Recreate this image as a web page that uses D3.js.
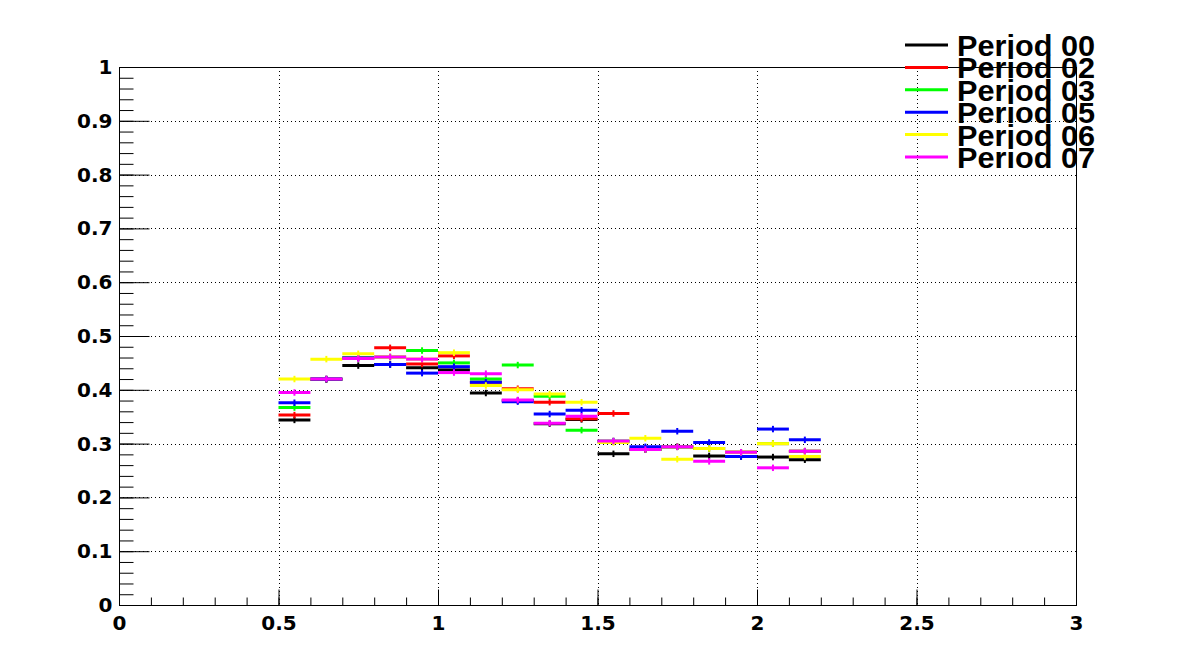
<!DOCTYPE html>
<html>
<head>
<meta charset="utf-8">
<script src="https://cdn.jsdelivr.net/npm/d3@7"></script>
<style>
  body { margin: 0; background: #fff; }
  svg { display: block; }
</style>
</head>
<body>
<svg id="chart" width="1196" height="672"></svg>
<script>
// bin lower edges (width 0.1)
const binLow = [0.5, 0.6, 0.7, 0.8, 0.9, 1.0, 1.1, 1.2, 1.3, 1.4, 1.5, 1.6, 1.7, 1.8, 1.9, 2.0, 2.1];
const binWidth = 0.1;

const seriesNames = ["Period 00", "Period 02", "Period 03", "Period 05", "Period 06", "Period 07"];
const seriesColors = ["#000000", "#ff0000", "#00ff00", "#0000ff", "#ffff00", "#ff00ff"];

const period00 = [0.344, 0.419, 0.445, 0.447, 0.441, 0.437, 0.394, 0.380, 0.337, 0.345, 0.281, 0.289, 0.294, 0.277, 0.276, 0.275, 0.270];
const period02 = [0.353, 0.420, 0.459, 0.478, 0.448, 0.463, 0.414, 0.402, 0.377, 0.346, 0.356, 0.289, 0.294, 0.291, 0.284, 0.300, 0.286];
const period03 = [0.367, 0.420, 0.459, 0.461, 0.473, 0.450, 0.420, 0.446, 0.388, 0.325, 0.305, 0.289, 0.294, 0.291, 0.284, 0.300, 0.286];
const period05 = [0.376, 0.420, 0.459, 0.447, 0.431, 0.443, 0.414, 0.378, 0.355, 0.362, 0.304, 0.294, 0.323, 0.302, 0.276, 0.327, 0.307];
const period06 = [0.420, 0.457, 0.467, 0.461, 0.457, 0.469, 0.408, 0.400, 0.392, 0.377, 0.302, 0.310, 0.271, 0.291, 0.284, 0.300, 0.276];
const period07 = [0.395, 0.420, 0.458, 0.461, 0.457, 0.432, 0.430, 0.381, 0.338, 0.351, 0.305, 0.289, 0.294, 0.267, 0.284, 0.255, 0.286];
const seriesErr = [0.006, 0.006, 0.006, 0.006, 0.006, 0.006];

const allSeries = [period00, period02, period03, period05, period06, period07];

const xMajor = [0, 0.5, 1, 1.5, 2, 2.5, 3];
const xMinor = d3.range(0, 3.0001, 0.1);
const yMajor = [0, 0.1, 0.2, 0.3, 0.4, 0.5, 0.6, 0.7, 0.8, 0.9, 1];
const yMinor = d3.range(0, 1.0001, 0.02);

const frameL = 119, frameR = 1076, frameT = 67, frameB = 605;
const tickFont = "'DejaVu Sans', Verdana, sans-serif";
const legendFont = "'Liberation Sans', Arial, sans-serif";

const svg = d3.select("#chart");
const x = d3.scaleLinear().domain([0, 3]).range([frameL, frameR]);
const y = d3.scaleLinear().domain([0, 1]).range([frameB, frameT]);

// grid
const grid = svg.append("g").attr("stroke", "#000").attr("stroke-width", 1).attr("stroke-dasharray", "1,3");
grid.selectAll("line.gx").data(xMajor.filter(d => d > 0 && d < 3)).join("line")
    .attr("class", "gx")
    .attr("x1", d => Math.round(x(d)) + 0.5).attr("x2", d => Math.round(x(d)) + 0.5)
    .attr("y1", frameT).attr("y2", frameB);
grid.selectAll("line.gy").data(yMajor.filter(d => d > 0 && d < 1)).join("line")
    .attr("class", "gy")
    .attr("x1", frameL).attr("x2", frameR)
    .attr("y1", d => Math.round(y(d)) + 0.5).attr("y2", d => Math.round(y(d)) + 0.5);

// frame
svg.append("rect")
    .attr("x", frameL + 0.5).attr("y", frameT + 0.5)
    .attr("width", frameR - frameL).attr("height", frameB - frameT)
    .attr("fill", "none").attr("stroke", "#000");

// axes (ticks inside, ROOT style)
svg.append("g")
    .attr("transform", `translate(${frameL + 0.5},0)`)
    .call(d3.axisLeft(y).tickValues(yMinor).tickSize(-14).tickFormat(""))
    .call(g => g.select(".domain").remove());
svg.append("g")
    .attr("transform", `translate(${frameL + 0.5},0)`)
    .call(d3.axisLeft(y).tickValues(yMajor).tickSize(-30).tickPadding(7).tickFormat(d3.format("~g")))
    .call(g => g.select(".domain").remove())
    .call(g => g.selectAll("text").style("font-size", "20px").style("font-family", tickFont).style("font-weight", "bold"));

svg.append("g")
    .attr("transform", `translate(0,${frameB + 0.5})`)
    .call(d3.axisBottom(x).tickValues(xMinor).tickSize(-8).tickFormat(""))
    .call(g => g.select(".domain").remove());
svg.append("g")
    .attr("transform", `translate(0,${frameB + 0.5})`)
    .call(d3.axisBottom(x).tickValues(xMajor).tickSize(-16).tickPadding(10).tickFormat(d3.format("~g")))
    .call(g => g.select(".domain").remove())
    .call(g => g.selectAll("text").style("font-size", "20px").style("font-family", tickFont).style("font-weight", "bold"));

// histograms with error bars
allSeries.forEach((vals, s) => {
    const g = svg.append("g").attr("stroke", seriesColors[s]);
    const pts = vals.map((v, i) => ({lo: binLow[i], v: v, e: seriesErr[s]}));
    g.selectAll("line.h").data(pts).join("line")
        .attr("class", "h")
        .attr("x1", d => x(d.lo)).attr("x2", d => x(d.lo + binWidth))
        .attr("y1", d => y(d.v)).attr("y2", d => y(d.v))
        .attr("stroke-width", 3);
    g.selectAll("line.v").data(pts).join("line")
        .attr("class", "v")
        .attr("x1", d => x(d.lo + binWidth / 2)).attr("x2", d => x(d.lo + binWidth / 2))
        .attr("y1", d => y(d.v - d.e)).attr("y2", d => y(d.v + d.e))
        .attr("stroke-width", 2);
});

// legend
const legend = svg.append("g");
const rowY = d3.scaleLinear().domain([0, 5]).range([45, 157]);
seriesNames.forEach((name, i) => {
    legend.append("line")
        .attr("x1", 905).attr("x2", 948)
        .attr("y1", rowY(i)).attr("y2", rowY(i))
        .attr("stroke", seriesColors[i]).attr("stroke-width", 3);
    legend.append("text")
        .attr("x", 957).attr("y", rowY(i) + 11)
        .style("font-family", legendFont)
        .style("font-weight", "bold")
        .style("font-size", "30px")
        .attr("textLength", 138)
        .attr("lengthAdjust", "spacingAndGlyphs")
        .text(name);
});
</script>
</body>
</html>
